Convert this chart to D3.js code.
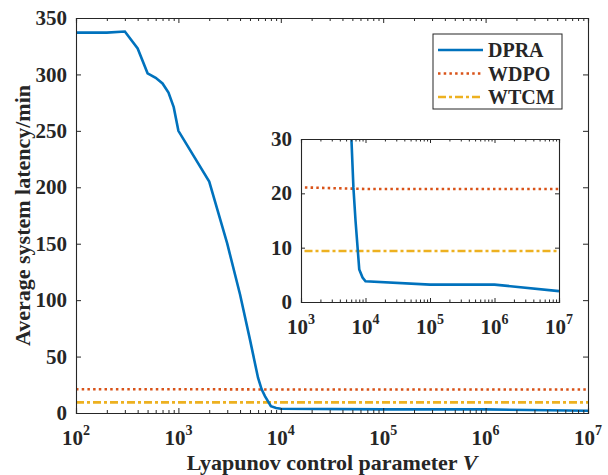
<!DOCTYPE html>
<html>
<head>
<meta charset="utf-8">
<script src="https://cdn.jsdelivr.net/npm/d3@7"></script>
<style>
body { margin: 0; background: #fff; }
text { font-family: "Liberation Serif", "Times New Roman", serif; font-weight: bold; fill: #262626; }
</style>
</head>
<body>
<svg id="chart" width="608" height="475"></svg>
<script>
// values
var vValues = [100, 200, 300, 400, 500, 600, 700, 800, 900, 1000, 2000, 3000, 4000, 5000, 6000, 6500, 7000, 8000, 9000, 10000, 1e5, 1e6, 1e7];
var dpraLatency = [337, 337, 338, 323, 301, 297, 292, 284, 271, 250, 205, 150, 105, 65, 31, 21, 15, 6, 4.5, 3.8, 3.2, 3.2, 2.0];
var flatV = [100, 1000, 10000, 1e7];
var wdpoLatency = [21.1, 21.1, 20.8, 20.8];
var wtcmLatency = [9.4, 9.4, 9.4, 9.4];

var seriesNames = ["DPRA", "WDPO", "WTCM"];
var seriesColors = ["#0072BD", "#D95319", "#EDB120"];
var seriesDash = [null, "2.5,3.2", "8,3,3,3"];

var mainYTicks = [0, 50, 100, 150, 200, 250, 300, 350];
var mainXTicks = [1e2, 1e3, 1e4, 1e5, 1e6, 1e7];
var insetYTicks = [0, 10, 20, 30];
var insetXTicks = [1e3, 1e4, 1e5, 1e6, 1e7];

var axisColor = "#262626";
var svg = d3.select("#chart");

function minorTicks(lo, hi) {
	var out = [];
	for (var d = lo; d < hi; d *= 10) {
		for (var k = 2; k <= 9; k++) out.push(d * k);
	}
	return out;
}

function series() {
	return [
		vValues.map(function(v, i) { return [v, dpraLatency[i]]; }),
		flatV.map(function(v, i) { return [v, wdpoLatency[i]]; }),
		flatV.map(function(v, i) { return [v, wtcmLatency[i]]; })
	];
}

// draws one boxed set of axes (matlab style, ticks inward on all four sides)
function drawAxes(g, x, y, xTicks, yTicks, xMinor, opts) {
	var x0 = x.range()[0], x1 = x.range()[1];
	var y0 = y.range()[0], y1 = y.range()[1];
	var w = x1 - x0, h = y0 - y1;

	g.append("rect").attr("x", x0).attr("y", y1).attr("width", w).attr("height", h)
		.attr("fill", "#fff");

	var clipId = "clip-" + opts.id;
	g.append("clipPath").attr("id", clipId)
		.append("rect").attr("x", x0).attr("y", y1).attr("width", w).attr("height", h);

	var line = d3.line().x(function(d) { return x(d[0]); }).y(function(d) { return y(d[1]); });
	var data = series();
	// draw flat lines first, main curve on top
	[1, 2, 0].forEach(function(i) {
		g.append("path")
			.attr("clip-path", "url(#" + clipId + ")")
			.attr("d", line(data[i]))
			.attr("fill", "none")
			.attr("stroke", seriesColors[i])
			.attr("stroke-width", 2.6)
			.attr("stroke-dasharray", seriesDash[i]);
	});

	var tl = opts.tick, tm = opts.minor;
	var axes = [
		[d3.axisBottom(x).tickValues(xTicks).tickSize(-tl), "translate(0," + y0 + ")"],
		[d3.axisTop(x).tickValues(xTicks).tickSize(-tl), "translate(0," + y1 + ")"],
		[d3.axisBottom(x).tickValues(xMinor).tickSize(-tm), "translate(0," + y0 + ")"],
		[d3.axisTop(x).tickValues(xMinor).tickSize(-tm), "translate(0," + y1 + ")"],
		[d3.axisLeft(y).tickValues(yTicks).tickSize(-tl), "translate(" + x0 + ",0)"],
		[d3.axisRight(y).tickValues(yTicks).tickSize(-tl), "translate(" + x1 + ",0)"]
	];
	axes.forEach(function(a) {
		var ag = g.append("g").attr("transform", a[1]).call(a[0].tickFormat(""));
		ag.selectAll("line").attr("stroke", axisColor).attr("stroke-width", 1);
		ag.select(".domain").attr("stroke", axisColor).attr("stroke-width", 1.1);
	});

	// y tick labels
	g.selectAll(null).data(yTicks).enter().append("text")
		.attr("x", x0 - 9)
		.attr("y", function(d) { return y(d); })
		.attr("dy", "0.34em")
		.attr("text-anchor", "end")
		.style("font-size", "21px")
		.text(function(d) { return d; });

	// x tick labels as 10^k
	var xl = g.selectAll(null).data(xTicks).enter().append("text")
		.attr("x", function(d) { return x(d); })
		.attr("y", y0 + 32)
		.attr("text-anchor", "middle")
		.style("font-size", "21px");
	xl.append("tspan").text("10");
	xl.append("tspan")
		.attr("dy", -10)
		.style("font-size", "14px")
		.text(function(d) { return Math.round(Math.log10(d)); });
}

// main axes
var x = d3.scaleLog().domain([1e2, 1e7]).range([76, 588]);
var y = d3.scaleLinear().domain([0, 350]).range([413, 18]);
var main = svg.append("g");
drawAxes(main, x, y, mainXTicks, mainYTicks, minorTicks(1e2, 1e7), { id: "main", tick: 5, minor: 3 });

// axis titles
svg.append("text")
	.attr("transform", "translate(30," + ((18 + 413) / 2) + ") rotate(-90)")
	.attr("text-anchor", "middle")
	.style("font-size", "22px")
	.text("Average system latency/min");

var xt = svg.append("text")
	.attr("x", (76 + 588) / 2)
	.attr("y", 470)
	.attr("text-anchor", "middle")
	.style("font-size", "22px");
xt.append("tspan").text("Lyapunov control parameter ");
xt.append("tspan").style("font-style", "italic").text("V");

// legend
var lg = svg.append("g");
lg.append("rect").attr("x", 433).attr("y", 34).attr("width", 129).attr("height", 75)
	.attr("fill", "#fff").attr("stroke", axisColor).attr("stroke-width", 1);
seriesNames.forEach(function(name, i) {
	var ly = 50 + i * 23.5;
	lg.append("line").attr("x1", 438).attr("x2", 483).attr("y1", ly).attr("y2", ly)
		.attr("stroke", seriesColors[i]).attr("stroke-width", 2.6)
		.attr("stroke-dasharray", seriesDash[i]);
	lg.append("text").attr("x", 488).attr("y", ly).attr("dy", "0.36em")
		.style("font-size", "20px").text(name);
});

// inset zoom
var xi = d3.scaleLog().domain([1e3, 1e7]).range([301, 559]);
var yi = d3.scaleLinear().domain([0, 30]).range([302, 139]);
var inset = svg.append("g");
drawAxes(inset, xi, yi, insetXTicks, insetYTicks, minorTicks(1e3, 1e7), { id: "inset", tick: 4, minor: 2.5 });
</script>
</body>
</html>
